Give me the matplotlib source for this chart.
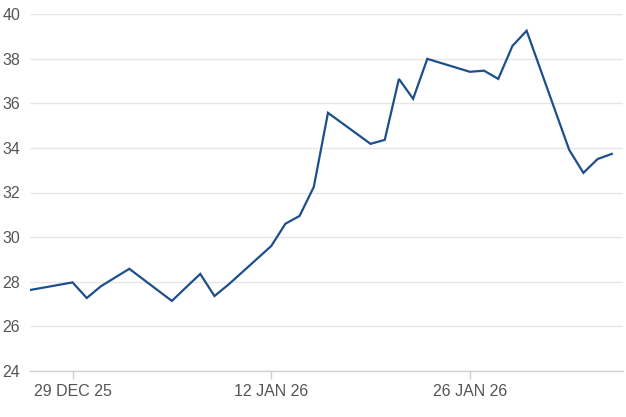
import numpy as np
import pandas as pd
import matplotlib
matplotlib.use('Agg')
import matplotlib.pyplot as plt
import matplotlib.dates as mdates

dates = ['2025-12-26', '2025-12-29', '2025-12-30', '2025-12-31', '2026-01-02',
         '2026-01-05', '2026-01-06', '2026-01-07', '2026-01-08', '2026-01-09',
         '2026-01-12', '2026-01-13', '2026-01-14', '2026-01-15', '2026-01-16',
         '2026-01-19', '2026-01-20', '2026-01-21', '2026-01-22', '2026-01-23',
         '2026-01-26', '2026-01-27', '2026-01-28', '2026-01-29', '2026-01-30',
         '2026-02-02', '2026-02-03', '2026-02-04', '2026-02-05']
values = [27.63, 27.97, 27.27, 27.80, 28.58,
          27.14, 27.75, 28.35, 27.36, 27.88,
          29.60, 30.60, 30.95, 32.25, 35.57,
          34.18, 34.36, 37.09, 36.20, 37.99,
          37.41, 37.46, 37.09, 38.57, 39.25,
          33.91, 32.88, 33.50, 33.73]
tick_dates = ['2025-12-29', '2026-01-12', '2026-01-26']
tick_labels = ['29 DEC 25', '12 JAN 26', '26 JAN 26']
y_ticks = [24, 26, 28, 30, 32, 34, 36, 38, 40]

x = pd.to_datetime(dates)

plt.rcParams['font.family'] = ['Liberation Sans', 'DejaVu Sans']

fig = plt.figure(figsize=(6.26, 4.17), dpi=100)
ax = fig.add_axes([30 / 626, 1 - 371 / 417, 593 / 626, 357 / 417])

ax.plot(x, values, color='#1d4f8c', linewidth=1.6, solid_joinstyle='miter')

ax.set_ylim(24, 40)
ax.set_yticks(y_ticks)
ax.set_xlim(pd.Timestamp('2025-12-26'), pd.Timestamp('2026-02-05') + pd.Timedelta(hours=19))
ax.set_xticks(pd.to_datetime(tick_dates))
ax.set_xticklabels(tick_labels)

ax.grid(axis='y', color='#e6e6e6', linewidth=1)
ax.set_axisbelow(True)
for s in ['top', 'right', 'left']:
    ax.spines[s].set_visible(False)
ax.spines['bottom'].set_color('#d0d0d0')
ax.spines['bottom'].set_linewidth(1)

# left-aligned y labels starting ~2px from the figure edge
ax.tick_params(axis='y', length=0, pad=20, labelsize=11.5, labelcolor='#555555')
for lbl in ax.get_yticklabels():
    lbl.set_horizontalalignment('left')
ax.tick_params(axis='x', length=6, width=1, color='#d0d0d0', pad=3,
               labelsize=11.5, labelcolor='#555555')

fig.savefig('out.png', dpi=100)
